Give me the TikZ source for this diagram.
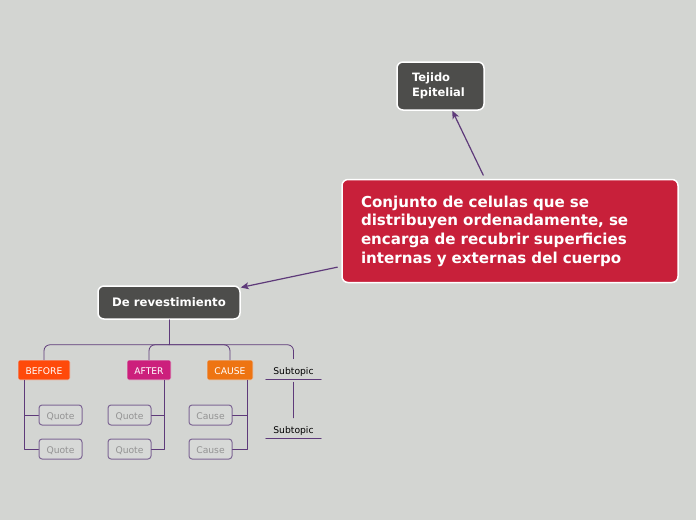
\documentclass[tikz,border=0pt]{standalone}
\usepackage{fontspec}
\setmainfont{DejaVu Sans}
\usetikzlibrary{calc,arrows.meta}
\definecolor{fondo}{HTML}{D3D5D2}
\definecolor{rojo}{HTML}{C8203A}
\definecolor{oscuro}{HTML}{4D4D4B}
\definecolor{morado}{HTML}{5E3A7A}
\definecolor{lila}{HTML}{7D6694}
\definecolor{cbefore}{HTML}{FF4A0A}
\definecolor{cafter}{HTML}{CC1F7C}
\definecolor{ccause}{HTML}{EE7412}
\tikzset{
  tema/.style={draw=white, line width=1.5pt, rounded corners=6pt, text=white, font=\bfseries},
  etiqueta/.style={draw=white!85!black, line width=0.6pt, rounded corners=2pt, text=white, font=\fontsize{9.2}{11}\selectfont,
    minimum height=20pt, inner xsep=0pt, text height=8pt, text depth=0pt},
  cita/.style={draw=lila, line width=1pt, rounded corners=3pt, fill=fondo!90!white, text=gray!85,
    font=\fontsize{9.2}{11}\selectfont, minimum width=43pt, minimum height=20pt, inner sep=0pt, text height=8pt, text depth=0pt},
  subt/.style={font=\fontsize{9.2}{11}\selectfont, minimum width=55pt, minimum height=20pt, inner sep=0pt, text height=10pt, text depth=0pt,
    append after command={(\tikzlastnode.south west) edge[rama] (\tikzlastnode.south east)}},
  rama/.style={draw=morado, line width=0.8pt},
  flecha/.style={draw=morado, line width=1.2pt, -{Stealth[length=8pt,width=7pt,inset=2pt]}}
}
\begin{document}
\begin{tikzpicture}[x=1pt, y=-1pt, line join=round, line cap=round]
\useasboundingbox[fill=fondo] (0,0) rectangle (696,520);
% temas principales
\node[tema, fill=rojo, minimum width=336pt, minimum height=103pt, text width=298pt, align=left,
  font=\bfseries\fontsize{15.1}{18.7}\selectfont] (main) at (510,231)
  {Conjunto de celulas que se\\distribuyen ordenadamente, se\\encarga de recubrir superficies\\internas y externas del cuerpo};
\node[tema, fill=oscuro, minimum width=87pt, minimum height=48pt, text width=57pt, align=left,
  font=\bfseries\fontsize{11.5}{15}\selectfont] (tejido) at (440.5,86) {Tejido\\Epitelial};
\node[tema, fill=oscuro, minimum width=142pt, minimum height=33pt,
  font=\bfseries\fontsize{11.7}{14}\selectfont] (rev) at (169,302.5) {De revestimiento};
\draw[flecha, shorten <=4pt] (main) -- (tejido);
\draw[flecha, shorten <=4pt] (main) -- (rev);
% subtemas
\node[etiqueta, fill=cbefore, minimum width=52pt] (before) at (44,370) {BEFORE};
\node[etiqueta, fill=cafter, minimum width=44pt] (after) at (149,370) {AFTER};
\node[etiqueta, fill=ccause, minimum width=46pt] (cause) at (230,370) {CAUSE};
\node[subt] (sub1) at (293.5,369) {Subtopic};
\node[subt] (sub2) at (293.5,428) {Subtopic};
\draw[rama] (rev.south) -- ++(0,25) coordinate (hub);
\foreach \n in {before,after,cause,sub1}
  \draw[rama, rounded corners=6pt] (\n.north) |- (hub);
\draw[rama, shorten <=3pt] (sub1.south) -- (sub2.north);
% citas
\foreach \n/\x/\t in {qa/60.5/Quote, qb/129.5/Quote, ca/210.5/Cause}{
  \node[cita] (\n1) at (\x,415) {\t};
  \node[cita] (\n2) at (\x,449) {\t};
}
\draw[rama] ($(before.south west)+(7,0)$) coordinate (lb) |- (qa2.west);
\draw[rama] (lb) |- (qa1.west);
\draw[rama] ($(after.south east)+(-7,0)$) coordinate (la) |- (qb2.east);
\draw[rama] (la) |- (qb1.east);
\draw[rama] ($(cause.south east)+(-6,0)$) coordinate (lc) |- (ca2.east);
\draw[rama] (lc) |- (ca1.east);
\end{tikzpicture}
\end{document}
